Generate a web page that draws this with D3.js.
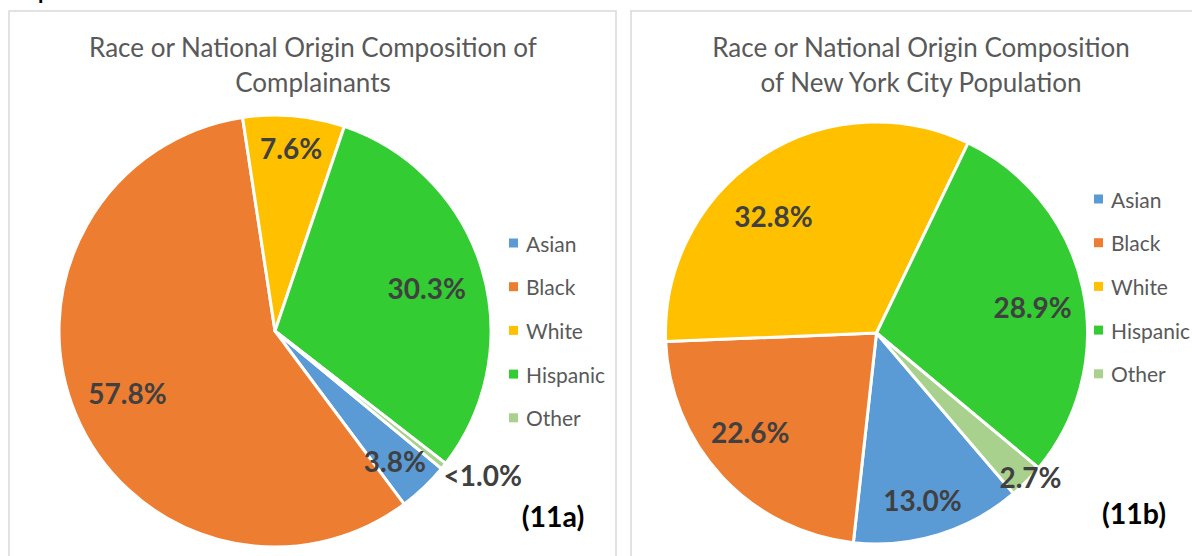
<!DOCTYPE html>
<html>
<head>
<meta charset="utf-8">
<script src="https://cdn.jsdelivr.net/npm/d3@7"></script>
<style>
  html, body { margin: 0; padding: 0; background: #fff; overflow: hidden; }
  svg { display: block; font-family: Lato, "Open Sans", sans-serif; }
</style>
</head>
<body>
<div id="chart"></div>
<script>
// 分類與數值
const categories = ['Asian', 'Black', 'White', 'Hispanic', 'Other'];
const complainantValues = [3.8, 57.8, 7.6, 30.3, 0.5];
const complainantLabels = ['3.8%', '57.8%', '7.6%', '30.3%', '<1.0%'];
const nycValues = [13.0, 22.6, 32.8, 28.9, 2.7];
const nycLabels = ['13.0%', '22.6%', '32.8%', '28.9%', '2.7%'];
const colors = ['#5B9BD5', '#ED7D31', '#FFC000', '#33CC33', '#A9D18E'];

const W = 1192, H = 556;

const svg = d3.select('#chart').append('svg')
  .attr('width', W).attr('height', H)
  .attr('viewBox', `0 0 ${W} ${H}`);

// 頁面標題殘留 (上方被裁掉)
svg.append('text')
  .attr('x', 38).attr('y', -1)
  .attr('font-weight', 'bold').attr('font-size', 22)
  .attr('fill', '#000')
  .text('p');

// 每張圖的版面設定
const panels = [
  {
    frame: { x: 9, y: 11, w: 607, h: 560 },
    title: ['Race or National Origin Composition of', 'Complainants'],
    titleX: 313,
    values: complainantValues, labels: complainantLabels,
    cx: 275, cy: 331, r: 216, startDeg: 129.6,
    // [半徑比例, 角度偏移]
    labelPos: [[0.82, 1], [0.74, 0], [0.85, 0], [0.73, 1], [1.17, -4]],
    legendX: 509, legendY: 243,
    tag: '(11a)', tagX: 553, tagY: 516
  },
  {
    frame: { x: 631, y: 11, w: 600, h: 560 },
    title: ['Race or National Origin Composition', 'of New York City Population'],
    titleX: 921,
    values: nycValues, labels: nycLabels,
    cx: 876.5, cy: 333, r: 211, startDeg: 139.5,
    labelPos: [[0.82, 1.7], [0.76, 5], [0.74, -8], [0.75, 2.8], [1.0, -1.5]],
    legendX: 1094, legendY: 199,
    tag: '(11b)', tagX: 1134, tagY: 513
  }
];

panels.forEach(p => {
  const g = svg.append('g');

  // 外框
  g.append('rect')
    .attr('x', p.frame.x).attr('y', p.frame.y)
    .attr('width', p.frame.w).attr('height', p.frame.h)
    .attr('fill', '#fff')
    .attr('stroke', '#D9D9D9')
    .attr('stroke-width', 1.5);

  // 標題
  g.append('text')
    .attr('x', p.titleX).attr('y', 57)
    .attr('text-anchor', 'middle')
    .attr('font-size', 26)
    .attr('fill', '#595959')
    .selectAll('tspan')
    .data(p.title)
    .enter().append('tspan')
    .attr('x', p.titleX)
    .attr('dy', (d, i) => i === 0 ? 0 : 35)
    .text(d => d);

  const start = p.startDeg * Math.PI / 180;
  const pie = d3.pie().sort(null)
    .startAngle(start)
    .endAngle(start + 2 * Math.PI);
  const arcs = pie(p.values);

  const arc = d3.arc().innerRadius(0).outerRadius(p.r);

  const pieG = g.append('g')
    .attr('transform', `translate(${p.cx},${p.cy})`);

  pieG.selectAll('path.slice')
    .data(arcs)
    .enter().append('path')
    .attr('class', 'slice')
    .attr('d', arc)
    .attr('fill', (d, i) => colors[i])
    .attr('stroke', '#fff')
    .attr('stroke-width', 3)
    .attr('stroke-linejoin', 'round');

  // 資料標籤：沿扇形中線放置
  pieG.selectAll('text.label')
    .data(arcs)
    .enter().append('text')
    .attr('class', 'label')
    .attr('transform', (d, i) => {
      const [k, off] = p.labelPos[i];
      const a = (d.startAngle + d.endAngle) / 2 + off * Math.PI / 180;
      const rr = p.r * k;
      return `translate(${rr * Math.sin(a)},${-rr * Math.cos(a)})`;
    })
    .attr('text-anchor', 'middle')
    .attr('dominant-baseline', 'central')
    .attr('font-size', 28)
    .attr('font-weight', 'bold')
    .attr('fill', '#404040')
    .text((d, i) => p.labels[i]);

  // 圖例
  const legend = g.append('g')
    .attr('transform', `translate(${p.legendX},${p.legendY})`);
  const item = legend.selectAll('g.item')
    .data(categories)
    .enter().append('g')
    .attr('class', 'item')
    .attr('transform', (d, i) => `translate(0,${i * 43.7})`);
  item.append('rect')
    .attr('x', 0).attr('y', -4.5)
    .attr('width', 9).attr('height', 9)
    .attr('fill', (d, i) => colors[i]);
  item.append('text')
    .attr('x', 17).attr('y', 0)
    .attr('dominant-baseline', 'central')
    .attr('font-size', 21)
    .attr('fill', '#595959')
    .text(d => d);

  // 圖號
  g.append('text')
    .attr('x', p.tagX).attr('y', p.tagY)
    .attr('text-anchor', 'middle')
    .attr('dominant-baseline', 'central')
    .attr('font-size', 28.5)
    .attr('font-weight', 'bold')
    .attr('fill', '#000')
    .text(p.tag);
});
</script>
</body>
</html>
